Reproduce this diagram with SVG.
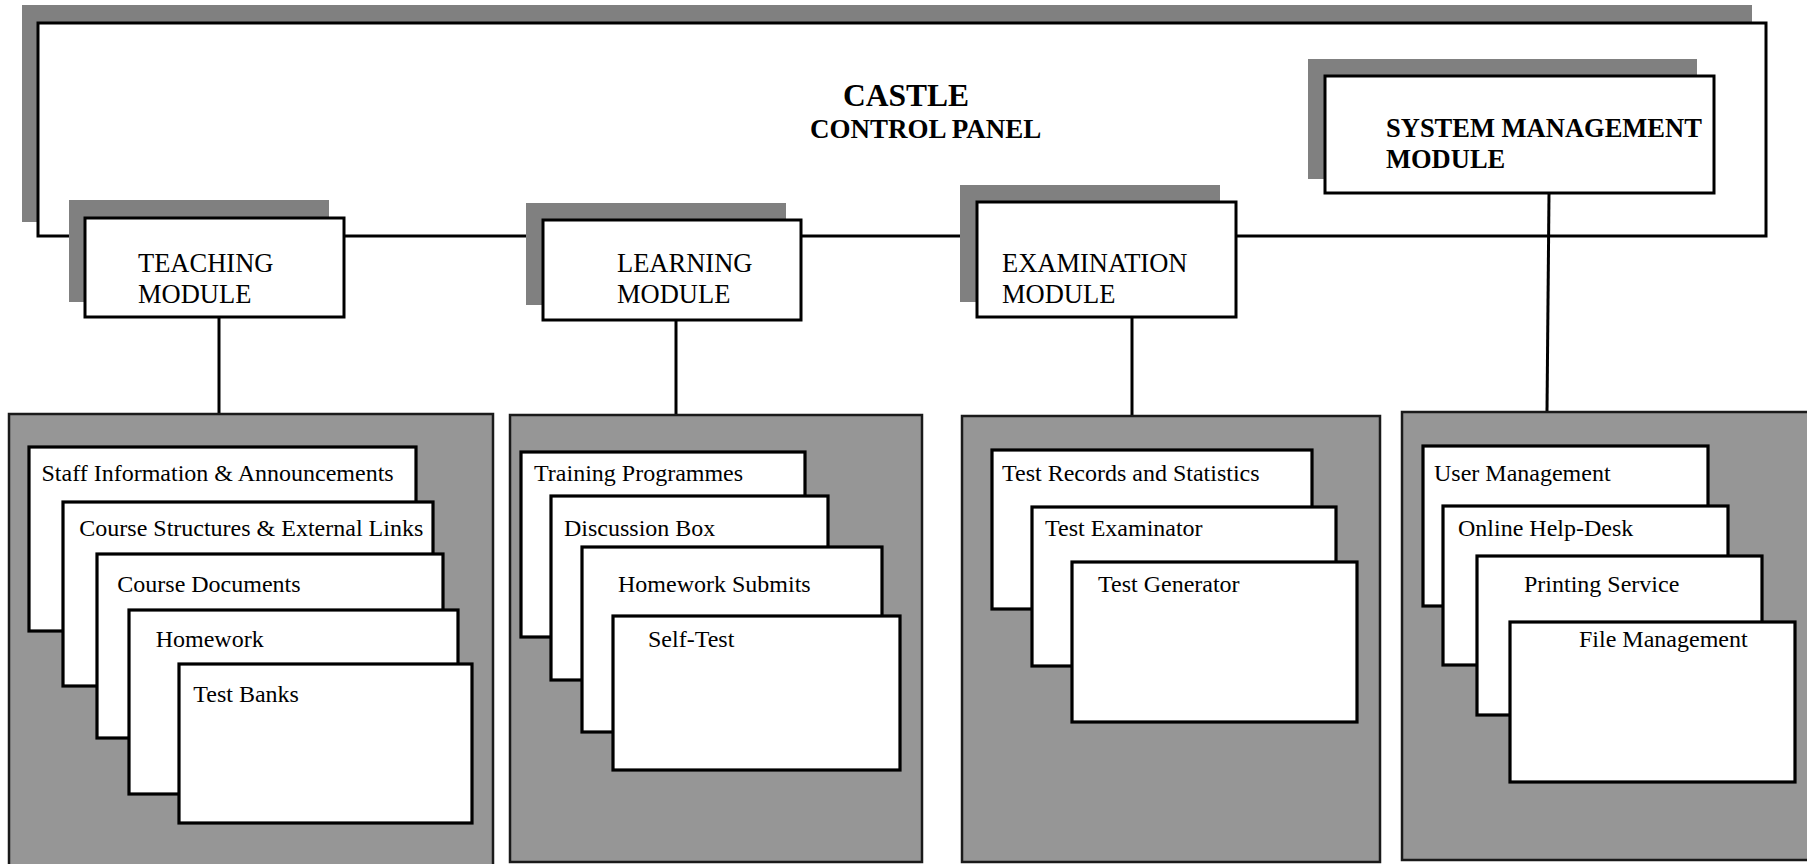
<svg xmlns="http://www.w3.org/2000/svg" width="1807" height="864" viewBox="0 0 1807 864">
<style>
.shadow{fill:#808080;stroke:none}
.box{fill:#fff;stroke:#000;stroke-width:3}
.panel{fill:#969696;stroke:#1a1a1a;stroke-width:2.5}
.card{fill:#fff;stroke:#000;stroke-width:3.2}
.conn{stroke:#000;stroke-width:3;fill:none}
.mod{font-family:"Liberation Serif","Times New Roman",serif;font-size:26.5px;fill:#000}
.bold{font-weight:bold}
.item{font-family:"Liberation Serif","Times New Roman",serif;font-size:24px;fill:#000}
</style>
<rect width="1807" height="864" fill="#fff"/>
<g id="control-panel">
  <rect class="shadow" x="22" y="5" width="1730" height="217"/>
  <rect class="box" x="38" y="23" width="1728" height="213"/>
  <text class="mod bold" x="843" y="106" style="font-size:31.5px">CASTLE</text>
  <text class="mod bold" x="810" y="138" style="font-size:27px">CONTROL PANEL</text>
</g>
<g id="connectors">
  <line class="conn" x1="219" y1="317" x2="219" y2="419"/>
  <line class="conn" x1="676" y1="320" x2="676" y2="415"/>
  <line class="conn" x1="1132" y1="317" x2="1132" y2="416"/>
  <line class="conn" x1="1549" y1="193" x2="1547" y2="412"/>
</g>
<g id="teaching-module">
  <rect class="shadow" x="69" y="200" width="260" height="102"/>
  <rect class="box" x="85" y="218" width="259" height="99"/>
  <text class="mod" x="138" y="272">TEACHING</text>
  <text class="mod" x="138" y="303">MODULE</text>
</g>
<g id="learning-module">
  <rect class="shadow" x="526" y="203" width="260" height="102"/>
  <rect class="box" x="543" y="220" width="258" height="100"/>
  <text class="mod" x="617" y="272">LEARNING</text>
  <text class="mod" x="617" y="303">MODULE</text>
</g>
<g id="examination-module">
  <rect class="shadow" x="960" y="185" width="260" height="117"/>
  <rect class="box" x="977" y="202" width="259" height="115"/>
  <text class="mod" x="1002" y="272">EXAMINATION</text>
  <text class="mod" x="1002" y="303">MODULE</text>
</g>
<g id="system-management-module">
  <rect class="shadow" x="1308" y="59" width="389" height="120"/>
  <rect class="box" x="1325" y="76" width="389" height="117"/>
  <text class="mod bold" x="1386" y="137">SYSTEM MANAGEMENT</text>
  <text class="mod bold" x="1386" y="168">MODULE</text>
</g>
<g id="teaching-panel">
  <rect class="panel" x="9" y="414" width="484" height="460"/>
  <rect class="card" x="29" y="447" width="387" height="184"/>
  <text class="item" x="41.5" y="480.7">Staff Information &amp; Announcements</text>
  <rect class="card" x="63" y="502" width="370" height="184"/>
  <text class="item" x="79.3" y="535.7">Course Structures &amp; External Links</text>
  <rect class="card" x="97" y="554" width="346" height="184"/>
  <text class="item" x="117.3" y="591.7">Course Documents</text>
  <rect class="card" x="129" y="610" width="329" height="184"/>
  <text class="item" x="155.7" y="646.7">Homework</text>
  <rect class="card" x="179" y="664" width="293" height="159"/>
  <text class="item" x="193.3" y="701.7">Test Banks</text>
</g>
<g id="learning-panel">
  <rect class="panel" x="510" y="415" width="412" height="447"/>
  <rect class="card" x="521" y="452" width="284" height="185"/>
  <text class="item" x="534" y="480.7">Training Programmes</text>
  <rect class="card" x="551" y="496" width="277" height="184"/>
  <text class="item" x="564" y="535.7">Discussion Box</text>
  <rect class="card" x="582" y="547" width="300" height="185"/>
  <text class="item" x="618" y="591.7">Homework Submits</text>
  <rect class="card" x="613" y="616" width="287" height="154"/>
  <text class="item" x="648" y="646.7">Self-Test</text>
</g>
<g id="examination-panel">
  <rect class="panel" x="962" y="416" width="418" height="446"/>
  <rect class="card" x="992" y="450" width="320" height="159"/>
  <text class="item" x="1002" y="480.7">Test Records and Statistics</text>
  <rect class="card" x="1032" y="507" width="304" height="159"/>
  <text class="item" x="1045" y="535.7">Test Examinator</text>
  <rect class="card" x="1072" y="562" width="285" height="160"/>
  <text class="item" x="1098" y="591.7">Test Generator</text>
</g>
<g id="system-management-panel">
  <rect class="panel" x="1402" y="412" width="420" height="448"/>
  <rect class="card" x="1423" y="446" width="285" height="160"/>
  <text class="item" x="1434" y="480.7">User Management</text>
  <rect class="card" x="1443" y="506" width="285" height="159"/>
  <text class="item" x="1458" y="535.7">Online Help-Desk</text>
  <rect class="card" x="1477" y="556" width="285" height="159"/>
  <text class="item" x="1524" y="591.7">Printing Service</text>
  <rect class="card" x="1510" y="622" width="285" height="160"/>
  <text class="item" x="1579" y="646.7">File Management</text>
</g>
</svg>
